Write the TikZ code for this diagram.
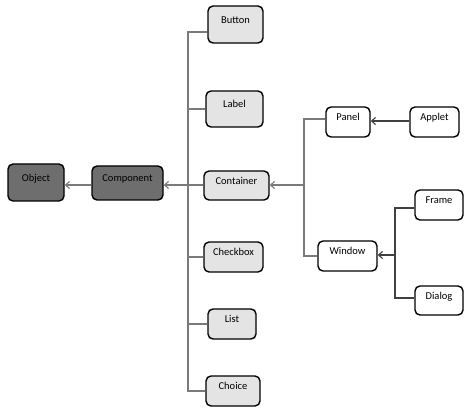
\documentclass[tikz,border=0pt]{standalone}
\usepackage{fontspec}
\setmainfont{Carlito}
\usepackage{tikz}
\usetikzlibrary{arrows.meta}

\definecolor{darkbox}{HTML}{6E6E6E}
\definecolor{lightbox}{HTML}{E4E4E4}
\definecolor{wireA}{HTML}{7A7A7A}
\definecolor{wireB}{HTML}{404040}

\begin{document}
\begin{tikzpicture}[x=1pt, y=-1pt,
	every node/.style={font=\fontsize{10.5}{12}\selectfont},
	cls/.style={draw=black, line width=1.4pt, rounded corners=5pt, inner sep=0pt,
		text height=8pt, text depth=10.5pt},
	base/.style={cls, fill=darkbox},
	awt/.style={cls, fill=lightbox},
	cont/.style={cls, fill=white},
	wire/.style={draw=wireA, line width=1.1pt},
	dwire/.style={draw=wireB, line width=1.1pt},
	inherit/.style={-{Straight Barb[length=4pt,width=7pt]}}]
	\useasboundingbox (0,0) rectangle (474,411);

	% java.lang / java.awt
	\node[base, minimum width=56pt, minimum height=37pt] (object) at (36,182.5) {Object};
	\node[base, minimum width=71pt, minimum height=34pt] (component) at (127.5,183) {Component};

	\node[awt, minimum width=55pt, minimum height=37pt] (button) at (235.5,24.5) {Button};
	\node[awt, minimum width=57pt, minimum height=36pt] (label) at (234.5,109) {Label};
	\node[awt, minimum width=65pt, minimum height=29pt] (container) at (236.5,185.5) {Container};
	\node[awt, minimum width=59pt, minimum height=30pt] (checkbox) at (233.5,257) {Checkbox};
	\node[awt, minimum width=48pt, minimum height=30pt] (list) at (232,324) {List};
	\node[awt, minimum width=54pt, minimum height=30pt] (choice) at (233,391) {Choice};

	\node[cont, minimum width=44pt, minimum height=30pt] (panel) at (348,122) {Panel};
	\node[cont, minimum width=49pt, minimum height=30pt] (applet) at (434.5,122) {Applet};
	\node[cont, minimum width=59pt, minimum height=30pt] (window) at (347.5,256) {Window};
	\node[cont, minimum width=48pt, minimum height=30pt] (frame) at (439,205) {Frame};
	\node[cont, minimum width=48pt, minimum height=29pt] (dialog) at (439,300.5) {Dialog};

	\coordinate (busA) at (188,185);
	\coordinate (busB) at (304,185);
	\coordinate (busC) at (395,255);

	\draw[wire, inherit] (component.west |- 0,185) -- (object.east |- 0,185);
	\draw[wire, inherit] (busA) -- (component.east |- busA);
	\draw[wire] ([yshift=-7.5pt]button.west) -| (busA) |- (choice.west);
	\draw[wire] (label.west) -- (label.west -| busA);
	\draw[wire] (container.west |- busA) -- (busA);
	\draw[wire] (checkbox.west) -- (checkbox.west -| busA);
	\draw[wire] (list.west) -- (list.west -| busA);

	\draw[wire, inherit] (busB) -- (container.east |- busB);
	\draw[wire] ([yshift=3pt]panel.west) -| (busB) |- (window.west);
	\draw[dwire, inherit] ([yshift=1pt]applet.west) -- ([yshift=1pt]panel.east);

	\draw[dwire, inherit] (busC) -- (window.east |- busC);
	\draw[dwire] ([yshift=-3pt]frame.west) -| (busC) |- ([yshift=2.5pt]dialog.west);
\end{tikzpicture}
\end{document}
